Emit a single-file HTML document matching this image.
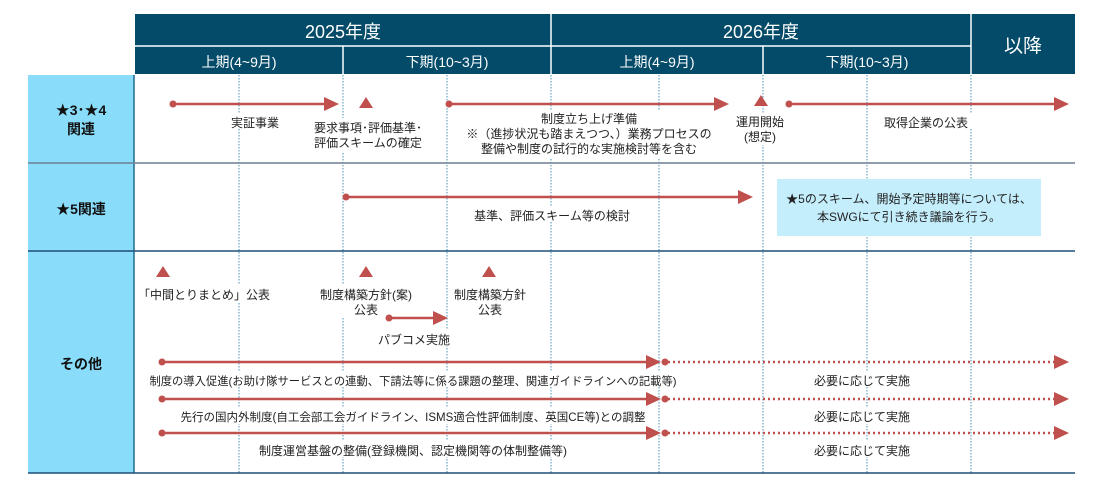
<!DOCTYPE html>
<html><head><meta charset="utf-8"><style>
html,body{margin:0;padding:0;background:#fff;width:1100px;height:487px;overflow:hidden}
svg text{font-family:"Liberation Sans","Noto Sans CJK JP",sans-serif}
</style></head><body>
<svg width="1100" height="487" viewBox="0 0 1100 487" xmlns="http://www.w3.org/2000/svg">
<!-- header -->
<rect x="135" y="14" width="940" height="60" fill="#034b69"/>
<g stroke="#fff" stroke-width="1.5">
<line x1="135" y1="46" x2="971" y2="46"/>
<line x1="551" y1="14" x2="551" y2="74"/>
<line x1="971" y1="14" x2="971" y2="74"/>
<line x1="343" y1="46" x2="343" y2="74"/>
<line x1="763" y1="46" x2="763" y2="74"/>
</g>
<g fill="#fff" text-anchor="middle">
<text x="343" y="38" font-size="18">2025年度</text>
<text x="761" y="38" font-size="18">2026年度</text>
<text x="1023" y="52" font-size="19">以降</text>
<text x="239" y="67" font-size="14">上期(4~9月)</text>
<text x="447" y="67" font-size="14">下期(10~3月)</text>
<text x="657" y="67" font-size="14">上期(4~9月)</text>
<text x="867" y="67" font-size="14">下期(10~3月)</text>
</g>
<!-- left labels -->
<rect x="28" y="75" width="106" height="398" fill="#89dcfa"/>
<line x1="134" y1="75" x2="134" y2="473" stroke="#1f6c8f" stroke-width="1.5"/>
<g font-weight="bold" font-size="14" text-anchor="middle" fill="#111">
<text x="81" y="115">★3･★4</text>
<text x="81" y="134">関連</text>
<text x="81" y="214">★5関連</text>
<text x="81" y="369">その他</text>
</g>
<!-- dotted verticals -->
<g stroke="#4a90b8" stroke-width="1" stroke-dasharray="1.5,1.5">
<line x1="239" y1="75" x2="239" y2="473"/><line x1="343" y1="75" x2="343" y2="473"/>
<line x1="447" y1="75" x2="447" y2="473"/><line x1="551" y1="75" x2="551" y2="473"/>
<line x1="659" y1="75" x2="659" y2="473"/><line x1="763" y1="75" x2="763" y2="473"/>
<line x1="867" y1="75" x2="867" y2="473"/><line x1="971" y1="75" x2="971" y2="473"/>
</g>
<!-- row separators -->
<line x1="28" y1="163" x2="1075" y2="163" stroke="#6f7f96" stroke-width="1.5"/>
<line x1="28" y1="251" x2="1075" y2="251" stroke="#1f4e79" stroke-width="1.5"/>
<line x1="28" y1="473" x2="1075" y2="473" stroke="#1f4e79" stroke-width="1.5"/>
<!-- text bg patches -->
<g fill="#fff">
<rect x="225" y="113" width="60" height="16"/>
<rect x="318" y="118" width="102" height="34"/>
<rect x="465" y="110" width="245" height="48"/>
<rect x="733" y="113" width="56" height="32"/>
<rect x="878" y="113" width="96" height="16"/>
<rect x="463" y="206" width="180" height="16"/>
<rect x="147" y="285" width="116" height="17"/>
<rect x="310" y="285" width="112" height="32"/>
<rect x="449" y="285" width="83" height="32"/>
<rect x="381" y="330" width="67" height="16"/>
<rect x="150" y="371" width="530" height="16"/>
<rect x="175" y="408" width="480" height="16"/>
<rect x="245" y="441" width="340" height="16"/>
<rect x="812" y="371" width="100" height="16"/>
<rect x="812" y="408" width="100" height="16"/>
<rect x="812" y="441" width="100" height="16"/>
</g>
<!-- arrows -->
<g stroke="#c0504d" stroke-width="2.5" fill="none">
<line x1="173" y1="104" x2="328" y2="104"/>
<line x1="449" y1="104" x2="718" y2="104"/>
<line x1="789" y1="104" x2="1058" y2="104"/>
<line x1="346" y1="197" x2="742" y2="197"/>
<line x1="389" y1="318" x2="437" y2="318"/>
<line x1="162" y1="362" x2="650" y2="362"/>
<line x1="162" y1="399" x2="650" y2="399"/>
<line x1="162" y1="433" x2="650" y2="433"/>
</g>
<g stroke="#c0504d" stroke-width="2.5" stroke-dasharray="2,3" fill="none">
<line x1="668" y1="362" x2="1058" y2="362"/>
<line x1="668" y1="399" x2="1058" y2="399"/>
<line x1="668" y1="433" x2="1058" y2="433"/>
</g>
<g fill="#c0504d">
<path d="M324,97L339,104L324,111z"/>
<path d="M714,97L729,104L714,111z"/>
<path d="M1054,97L1069,104L1054,111z"/>
<path d="M738,190L753,197L738,204z"/>
<path d="M433,311L448,318L433,325z"/>
<path d="M646,355L661,362L646,369z"/>
<path d="M646,392L661,399L646,406z"/>
<path d="M646,426L661,433L646,440z"/>
<path d="M1054,355L1069,362L1054,369z"/><path d="M1054,392L1069,399L1054,406z"/><path d="M1054,426L1069,433L1054,440z"/>
<circle cx="173" cy="104" r="3.5"/><circle cx="449" cy="104" r="3.5"/><circle cx="789" cy="104" r="3.5"/>
<circle cx="346" cy="197" r="3.5"/><circle cx="389" cy="318" r="3.5"/>
<circle cx="162" cy="362" r="3.5"/><circle cx="162" cy="399" r="3.5"/><circle cx="162" cy="433" r="3.5"/>
<circle cx="665" cy="362" r="3.5"/><circle cx="665" cy="399" r="3.5"/><circle cx="665" cy="433" r="3.5"/>
<path d="M359,108L366,97L373,108z"/>
<path d="M754,106L761,95L768,106z"/>
<path d="M156,277L163,266L170,277z"/>
<path d="M359,277L366,266L373,277z"/>
<path d="M482,277L489,266L496,277z"/>
</g>
<!-- box -->
<rect x="777" y="179" width="264" height="57" fill="#c5eefc"/>
<g font-size="12" fill="#222" text-anchor="middle">
<text x="909" y="203">★5のスキーム、開始予定時期等については、</text>
<text x="909" y="221">本SWGにて引き続き議論を行う。</text>
<text x="255" y="127">実証事業</text>
<text x="368" y="132">要求事項･評価基準･</text>
<text x="368" y="147">評価スキームの確定</text>
<text x="589" y="123">制度立ち上げ準備</text>
<text x="589" y="138">※（進捗状況も踏まえつつ、）業務プロセスの</text>
<text x="589" y="153">整備や制度の試行的な実施検討等を含む</text>
<text x="760" y="126">運用開始</text>
<text x="760" y="141">(想定)</text>
<text x="926" y="127">取得企業の公表</text>
<text x="552" y="220">基準、評価スキーム等の検討</text>
<text x="204" y="299">「中間とりまとめ」公表</text>
<text x="366" y="299">制度構築方針(案)</text>
<text x="366" y="314">公表</text>
<text x="490" y="299">制度構築方針</text>
<text x="490" y="314">公表</text>
<text x="414" y="344">パブコメ実施</text>
<text x="413" y="385" font-size="11.3">制度の導入促進(お助け隊サービスとの連動、下請法等に係る課題の整理、関連ガイドラインへの記載等)</text>
<text x="413" y="421" font-size="11.5">先行の国内外制度(自工会部工会ガイドライン、ISMS適合性評価制度、英国CE等)との調整</text>
<text x="413" y="455">制度運営基盤の整備(登録機関、認定機関等の体制整備等)</text>
<text x="862" y="385">必要に応じて実施</text>
<text x="862" y="421">必要に応じて実施</text>
<text x="862" y="455">必要に応じて実施</text>
</g>
</svg>
</body></html>
